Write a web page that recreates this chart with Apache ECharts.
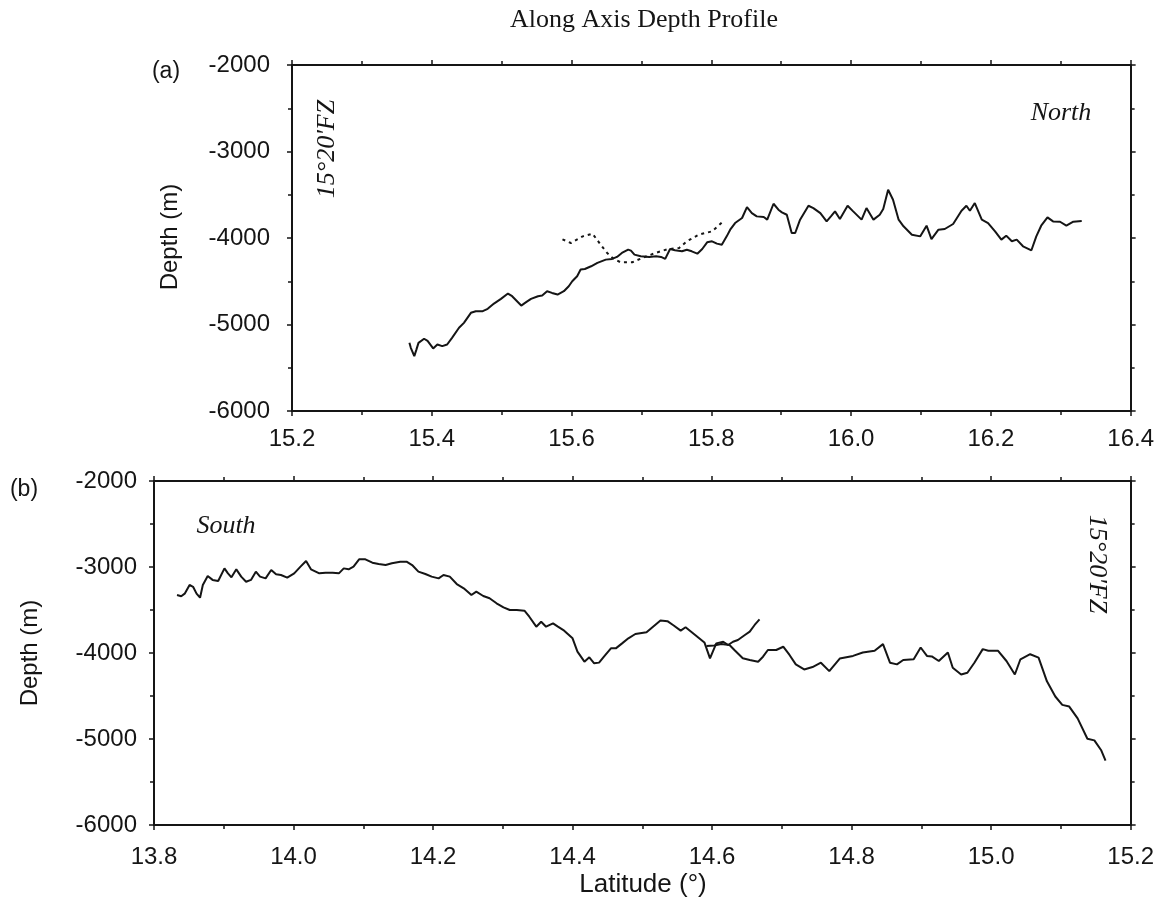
<!DOCTYPE html>
<html>
<head>
<meta charset="utf-8">
<script src="https://cdn.jsdelivr.net/npm/echarts@6/dist/echarts.min.js"></script>
<style>html,body{margin:0;padding:0;background:#fff}#c{width:1157px;height:906px}</style>
</head>
<body>
<div id="c"></div>
<script>
// ---- Data: panel (a) North, solid profile ----
const latA = [15.368,15.370,15.375,15.378,15.381,15.389,15.394,15.402,15.408,15.415,15.422,15.429,15.439,15.446,15.456,15.463,15.473,15.480,15.489,15.499,15.509,15.515,15.522,15.528,15.535,15.542,15.552,15.558,15.565,15.572,15.580,15.589,15.596,15.601,15.608,15.613,15.619,15.628,15.637,15.649,15.658,15.665,15.672,15.681,15.685,15.690,15.699,15.711,15.721,15.728,15.734,15.741,15.748,15.758,15.765,15.772,15.780,15.787,15.794,15.801,15.808,15.815,15.822,15.827,15.834,15.844,15.851,15.858,15.865,15.875,15.880,15.889,15.896,15.901,15.908,15.915,15.920,15.927,15.939,15.946,15.956,15.965,15.972,15.977,15.984,15.995,16.003,16.015,16.022,16.032,16.041,16.046,16.053,16.060,16.068,16.075,16.087,16.099,16.108,16.115,16.125,16.134,16.146,16.158,16.165,16.170,16.177,16.187,16.196,16.206,16.215,16.222,16.230,16.237,16.246,16.258,16.265,16.272,16.281,16.289,16.299,16.308,16.318,16.330];
const depA = [-5212,-5269,-5365,-5290,-5212,-5165,-5190,-5277,-5231,-5250,-5231,-5154,-5038,-4981,-4865,-4846,-4846,-4819,-4758,-4704,-4642,-4673,-4731,-4781,-4742,-4704,-4673,-4665,-4615,-4635,-4654,-4615,-4558,-4500,-4442,-4365,-4358,-4327,-4288,-4250,-4242,-4219,-4173,-4135,-4146,-4192,-4212,-4219,-4212,-4219,-4242,-4127,-4142,-4154,-4135,-4154,-4181,-4127,-4050,-4038,-4065,-4077,-3981,-3904,-3827,-3769,-3642,-3712,-3750,-3758,-3788,-3604,-3673,-3704,-3731,-3942,-3942,-3788,-3627,-3654,-3712,-3808,-3742,-3692,-3781,-3627,-3692,-3788,-3654,-3788,-3731,-3665,-3442,-3558,-3788,-3865,-3962,-3981,-3858,-4012,-3904,-3896,-3838,-3685,-3627,-3685,-3596,-3788,-3827,-3923,-4019,-3973,-4038,-4019,-4096,-4142,-3981,-3858,-3762,-3808,-3812,-3858,-3812,-3804];
// ---- panel (a) dotted profile ----
const latA2 = [15.587,15.599,15.616,15.630,15.641,15.651,15.660,15.670,15.687,15.701,15.720,15.737,15.754,15.765,15.782,15.801,15.818];
const depA2 = [-4015,-4058,-3981,-3950,-4070,-4173,-4240,-4280,-4280,-4231,-4173,-4130,-4115,-4038,-3962,-3923,-3800];
// ---- panel (b) South, first profile ----
const latB = [13.833,13.839,13.844,13.851,13.856,13.861,13.866,13.870,13.877,13.884,13.892,13.901,13.906,13.911,13.918,13.925,13.932,13.939,13.946,13.952,13.960,13.968,13.975,13.982,13.991,14.001,14.010,14.018,14.025,14.037,14.046,14.056,14.065,14.072,14.079,14.086,14.094,14.103,14.113,14.122,14.132,14.141,14.153,14.162,14.170,14.179,14.189,14.198,14.208,14.215,14.224,14.234,14.244,14.255,14.262,14.272,14.281,14.291,14.301,14.310,14.320,14.331,14.338,14.348,14.355,14.362,14.372,14.379,14.388,14.400,14.407,14.417,14.424,14.431,14.438,14.445,14.455,14.462,14.471,14.480,14.490,14.506,14.526,14.536,14.545,14.555,14.562,14.574,14.589,14.597,14.606,14.616,14.623,14.630,14.637,14.647,14.654,14.661,14.668];
const depB = [-3326,-3340,-3310,-3209,-3230,-3310,-3357,-3209,-3105,-3150,-3163,-3016,-3074,-3120,-3027,-3112,-3171,-3150,-3054,-3112,-3132,-3035,-3085,-3093,-3124,-3074,-2996,-2930,-3027,-3074,-3066,-3066,-3074,-3016,-3027,-2996,-2911,-2911,-2950,-2965,-2977,-2957,-2938,-2938,-2977,-3054,-3081,-3112,-3132,-3093,-3112,-3198,-3248,-3326,-3287,-3337,-3364,-3422,-3469,-3500,-3500,-3508,-3578,-3694,-3636,-3694,-3655,-3694,-3740,-3829,-3984,-4101,-4050,-4120,-4112,-4043,-3946,-3946,-3888,-3829,-3779,-3758,-3621,-3630,-3680,-3740,-3700,-3778,-3877,-4062,-3888,-3869,-3907,-3869,-3849,-3791,-3752,-3674,-3609];
// ---- panel (b) second profile ----
const latB2 = [14.592,14.603,14.613,14.625,14.632,14.644,14.654,14.666,14.673,14.680,14.692,14.702,14.711,14.720,14.732,14.744,14.756,14.768,14.783,14.802,14.816,14.833,14.845,14.855,14.865,14.874,14.889,14.899,14.908,14.915,14.925,14.938,14.945,14.957,14.966,14.976,14.988,14.996,15.010,15.022,15.034,15.042,15.056,15.068,15.080,15.092,15.102,15.112,15.124,15.138,15.148,15.158,15.164];
const depB2 = [-3919,-3912,-3895,-3907,-3965,-4062,-4081,-4101,-4043,-3965,-3965,-3927,-4023,-4132,-4191,-4163,-4113,-4211,-4065,-4034,-3994,-3974,-3897,-4113,-4132,-4081,-4073,-3936,-4034,-4040,-4093,-3994,-4171,-4250,-4230,-4113,-3955,-3974,-3974,-4093,-4250,-4073,-4014,-4053,-4329,-4506,-4603,-4623,-4760,-4997,-5016,-5134,-5252];

// ---- axis ranges / labels ----
const xRangeA = [15.2, 16.4];
const xRangeB = [13.8, 15.2];
const yRange = [-6000, -2000];
const texts = {
  title: 'Along Axis Depth Profile',
  panelA: '(a)', panelB: '(b)',
  yName: 'Depth (m)', xName: 'Latitude (°)',
  north: 'North', south: 'South', fz: "15°20'FZ"
};

const zip = (a, b) => a.map((v, i) => [v, b[i]]);
const INK = '#151515';
const SANS = '"Liberation Sans", Arial, Helvetica, sans-serif';
const SERIF = '"Liberation Serif", "Times New Roman", serif';

function xAxis(grid, range, pos, showLabel, margin) {
  return {
    type: 'value', gridIndex: grid, position: pos, min: range[0], max: range[1], interval: 0.2,
    axisLine: { show: true, onZero: false, lineStyle: { color: INK, width: 2 } },
    axisTick: { show: true, length: 5, lineStyle: { color: INK, width: 1.5 } },
    minorTick: { show: true, splitNumber: 2, length: 4, lineStyle: { color: INK, width: 1.5 } },
    splitLine: { show: false },
    axisLabel: { show: showLabel, fontSize: 24, color: INK, fontFamily: SANS, margin: margin,
      formatter: v => v.toFixed(1) }
  };
}
function yAxis(grid, pos, showLabel, margin) {
  return {
    type: 'value', gridIndex: grid, position: pos, min: yRange[0], max: yRange[1], interval: 1000,
    axisLine: { show: true, onZero: false, lineStyle: { color: INK, width: 2 } },
    axisTick: { show: true, length: 5, lineStyle: { color: INK, width: 1.5 } },
    minorTick: { show: true, splitNumber: 2, length: 4, lineStyle: { color: INK, width: 1.5 } },
    splitLine: { show: false },
    axisLabel: { show: showLabel, fontSize: 24, color: INK, fontFamily: SANS, margin: margin,
      formatter: v => String(v) }
  };
}
function txt(t, x, y, font, rot) {
  return { type: 'text', x: x, y: y, rotation: rot || 0, silent: true,
    style: { text: t, fill: INK, font: font, align: 'center', verticalAlign: 'middle' } };
}

const chart = echarts.init(document.getElementById('c'), null, { renderer: 'canvas' });
chart.setOption({
  animation: false,
  backgroundColor: '#fff',
  grid: [
    { left: 292, top: 65, width: 840, height: 346 },
    { left: 154, top: 481, width: 977, height: 344 }
  ],
  xAxis: [
    xAxis(0, xRangeA, 'bottom', true, 16),
    xAxis(0, xRangeA, 'top', false, 8),
    xAxis(1, xRangeB, 'bottom', true, 20),
    xAxis(1, xRangeB, 'top', false, 8)
  ],
  yAxis: [
    yAxis(0, 'left', true, 22),
    yAxis(0, 'right', false, 8),
    yAxis(1, 'left', true, 17),
    yAxis(1, 'right', false, 8)
  ],
  series: [
    { type: 'line', xAxisIndex: 0, yAxisIndex: 0, data: zip(latA, depA), showSymbol: false,
      lineStyle: { color: INK, width: 2 } },
    { type: 'line', xAxisIndex: 0, yAxisIndex: 0, data: zip(latA2, depA2), showSymbol: false,
      lineStyle: { color: INK, width: 2, type: [3, 4] } },
    { type: 'line', xAxisIndex: 2, yAxisIndex: 2, data: zip(latB, depB), showSymbol: false,
      lineStyle: { color: INK, width: 2 } },
    { type: 'line', xAxisIndex: 2, yAxisIndex: 2, data: zip(latB2, depB2), showSymbol: false,
      lineStyle: { color: INK, width: 2 } }
  ],
  graphic: [
    txt(texts.title, 644, 20, '26px ' + SERIF),
    txt(texts.panelA, 166, 72, '23px ' + SANS),
    txt(texts.panelB, 24, 490, '23px ' + SANS),
    txt(texts.yName, 170, 237, '24px ' + SANS, Math.PI / 2),
    txt(texts.yName, 30, 653, '24px ' + SANS, Math.PI / 2),
    txt(texts.xName, 643, 885, '26px ' + SANS),
    txt(texts.north, 1061, 113, 'italic 26px ' + SERIF),
    txt(texts.south, 226, 526, 'italic 26px ' + SERIF),
    txt(texts.fz, 327, 149, 'italic 26px ' + SERIF, Math.PI / 2),
    txt(texts.fz, 1097, 564, 'italic 26px ' + SERIF, -Math.PI / 2)
  ]
});
</script>
</body>
</html>
